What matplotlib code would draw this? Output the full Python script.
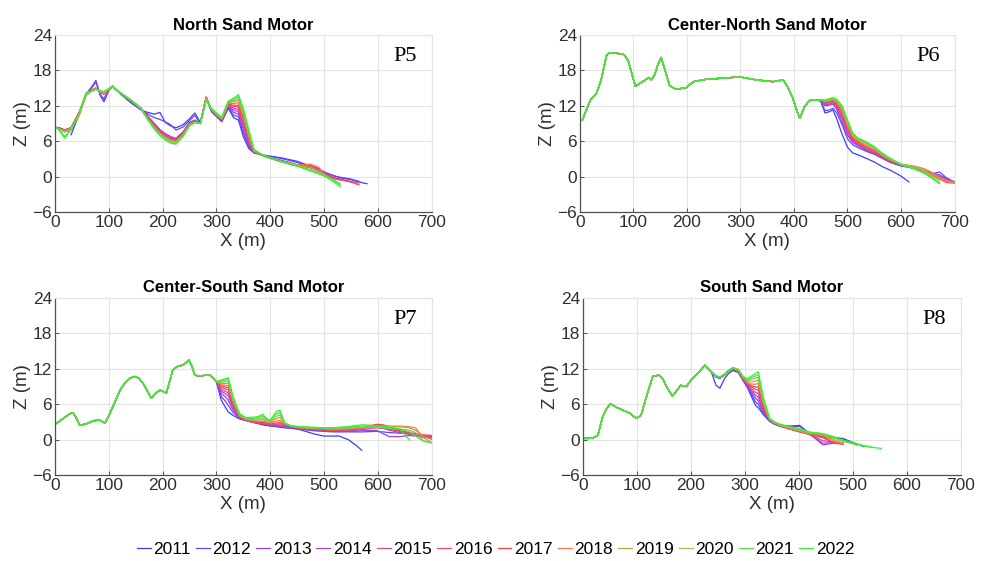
import matplotlib.pyplot as plt

plt.rcParams['font.family'] = ['Liberation Sans', 'DejaVu Sans']

years = [2011, 2012, 2013, 2014, 2015, 2016, 2017, 2018, 2019, 2020, 2021, 2022]
year_colors = ['#3c3cff', '#6644ff', '#9444e6', '#b444c8', '#d4449e', '#f04878',
               '#ff4040', '#f07848', '#c8a04a', '#9cc04c', '#4ee646', '#2ef52e']

titles = ['North Sand Motor', 'Center-North Sand Motor',
          'Center-South Sand Motor', 'South Sand Motor']
profile_ids = ['P5', 'P6', 'P7', 'P8']

# ---------------- P5 (North) : every year stored per section ----------------
p5_x_land = [0, 10, 18, 30, 45, 58, 68, 76, 84, 91, 100, 107, 120, 140, 160]
p5_z_land = [
    [None, None, None, 7.1, 10.6, 13.9, 15.0, 16.3, 13.8, 12.7, 14.6, 15.4, 14.2, 12.6, 11.3],
    [None, 8.1, 7.6, 7.9, 10.7, 14.0, 15.2, 16.2, 13.9, 12.8, 14.7, 15.3, 14.2, 12.7, 11.3],
    [8.3, 8.2, 7.9, 8.2, 10.8, 14.0, 15.0, 16.0, 14.0, 13.2, 14.8, 15.3, 14.2, 12.8, 11.4],
    [8.4, 8.2, 7.9, 8.3, 10.8, 14.0, 14.6, 15.0, 14.3, 14.0, 14.8, 15.2, 14.3, 13.0, 11.6],
    [8.4, 8.2, 7.9, 8.3, 10.8, 14.0, 14.6, 15.0, 14.3, 14.0, 14.8, 15.2, 14.3, 13.0, 11.6],
    [8.4, 8.2, 7.9, 8.3, 10.8, 14.0, 14.6, 15.0, 14.3, 14.0, 14.8, 15.2, 14.3, 13.0, 11.6],
    [8.4, 8.1, 7.8, 8.3, 10.9, 14.1, 14.6, 15.0, 14.3, 14.0, 14.8, 15.2, 14.3, 13.0, 11.6],
    [8.3, 8.0, 7.7, 8.2, 10.4, 13.8, 14.5, 14.9, 14.4, 14.1, 14.8, 15.2, 14.3, 13.1, 11.6],
    [8.3, 8.0, 7.7, 8.2, 10.3, 13.8, 14.5, 14.9, 14.4, 14.1, 14.8, 15.2, 14.3, 13.1, 11.6],
    [8.4, 8.0, 7.6, 8.1, 10.6, 14.0, 14.5, 14.9, 14.5, 14.3, 14.9, 15.3, 14.3, 13.0, 11.5],
    [8.5, 7.8, 6.8, 8.0, 10.6, 14.2, 14.5, 14.8, 14.6, 14.4, 14.9, 15.3, 14.3, 13.0, 11.5],
    [8.6, 7.6, 6.5, 8.0, 10.6, 14.2, 14.5, 14.8, 14.6, 14.4, 14.9, 15.3, 14.3, 13.0, 11.5],
]
p5_x_mid = [172, 185, 195, 205, 215, 225, 238, 250, 260, 270, 281, 291, 300, 310]
p5_z_mid = [
    [10.9, 10.6, 10.9, 9.2, 8.6, 8.3, 8.8, 9.8, 10.8, 9.2, 13.3, 11.0, 10.2, 9.3],
    [10.6, 10.0, 9.7, 9.3, 8.8, 7.9, 8.4, 9.5, 10.4, 9.0, 13.2, 11.1, 10.3, 9.4],
    [10.3, 9.0, 8.0, 7.3, 6.8, 6.5, 7.6, 9.2, 9.6, 9.0, 13.4, 11.2, 10.4, 9.5],
    [10.2, 8.8, 7.8, 7.1, 6.6, 6.4, 7.5, 9.1, 9.5, 9.0, 13.4, 11.2, 10.4, 9.6],
    [10.1, 8.7, 7.7, 7.0, 6.5, 6.3, 7.4, 9.0, 9.4, 9.0, 13.4, 11.2, 10.4, 9.6],
    [10.0, 8.6, 7.6, 6.9, 6.4, 6.2, 7.3, 8.9, 9.4, 9.0, 13.5, 11.3, 10.5, 9.7],
    [10.0, 8.5, 7.5, 6.8, 6.3, 6.1, 7.2, 8.9, 9.3, 9.0, 13.5, 11.3, 10.5, 9.7],
    [9.9, 8.4, 7.4, 6.7, 6.2, 6.0, 7.1, 8.8, 9.3, 9.0, 13.3, 11.4, 10.6, 9.8],
    [9.9, 8.3, 7.3, 6.6, 6.1, 5.9, 7.0, 8.8, 9.2, 9.0, 13.2, 11.4, 10.6, 9.8],
    [9.8, 8.2, 7.2, 6.5, 6.0, 5.8, 7.0, 8.7, 9.2, 9.0, 13.1, 11.5, 10.7, 9.9],
    [9.8, 8.1, 7.1, 6.3, 5.8, 5.6, 6.9, 8.7, 9.2, 9.0, 13.0, 11.5, 10.7, 10.0],
    [9.7, 8.0, 7.0, 6.2, 5.7, 5.5, 6.8, 8.6, 9.2, 9.0, 12.9, 11.6, 10.8, 10.1],
]
p5_x_front = [322, 332, 341, 350, 360, 370]
p5_z_front = [
    [11.6, 10.0, 9.6, 6.8, 4.8, 4.0],
    [11.8, 10.4, 10.2, 7.4, 5.0, 4.1],
    [12.0, 10.9, 10.6, 8.0, 5.3, 4.1],
    [12.0, 11.3, 11.0, 8.5, 5.6, 4.2],
    [12.1, 11.6, 11.4, 9.0, 5.9, 4.2],
    [12.2, 11.9, 11.8, 9.5, 6.2, 4.2],
    [12.3, 12.1, 12.1, 9.9, 6.5, 4.3],
    [12.4, 12.4, 12.5, 10.3, 6.8, 4.3],
    [12.5, 12.7, 12.9, 10.7, 7.1, 4.4],
    [12.6, 12.9, 13.2, 11.0, 7.4, 4.4],
    [12.7, 13.1, 13.6, 11.3, 7.7, 4.5],
    [12.8, 13.3, 13.9, 11.6, 8.0, 4.6],
]
p5_x_sea = [390, 420, 450, 475, 490, 505, 520, 530, 550, 565, 580]
p5_z_sea = [
    [3.6, 3.2, 2.6, 1.8, 1.3, 0.6, 0.1, -0.2, -0.5, -0.9, -1.2],
    [3.6, 3.1, 2.4, 1.7, 1.2, 0.6, 0.1, -0.1, -0.4, -0.8],
    [3.5, 2.8, 2.0, 1.5, 1.0, 0.3, -0.2, -0.5, -0.9],
    [3.5, 2.7, 2.0, 1.7, 1.3, 0.4, -0.3, -0.6],
    [3.5, 2.6, 1.9, 1.9, 1.4, 0.2, -0.4],
    [3.4, 2.6, 1.9, 1.8, 1.0, 0.3, -0.2, -0.4, -0.8, -1.1],
    [3.4, 2.5, 1.8, 1.6, 0.9, 0.2, -0.3, -0.5, -0.9, -1.4],
    [3.5, 2.6, 2.0, 2.1, 1.6, 0.0, -0.8],
    [3.5, 2.6, 1.9, 1.6, 1.0, -0.1, -0.7],
    [3.5, 2.6, 1.9, 1.2, 0.7, 0.1, -0.6, -1.2],
    [3.5, 2.6, 1.8, 1.0, 0.5, 0.0, -0.8, -1.4],
    [3.4, 2.6, 1.8, 1.0, 0.5, -0.1, -1.0, -1.7],
]

# ---------------- P6 (Center-North) ----------------
p6_x_land = [5, 10, 20, 31, 40, 50, 55, 68, 81, 90, 97, 104, 112, 124, 129, 134, 140,
             146, 152, 159, 168, 180, 199, 212, 236, 268, 299, 330, 361, 380, 389,
             398, 405, 411, 420, 429, 440]
p6_z_land = [9.6, 10.8, 13.0, 14.1, 16.4, 20.6, 21.0, 20.9, 20.8, 19.8, 17.5, 15.3,
             15.8, 16.5, 16.8, 16.4, 17.3, 19.0, 20.2, 18.1, 15.4, 14.8, 15.1, 16.1,
             16.5, 16.7, 16.9, 16.4, 16.1, 16.4, 15.1, 13.3, 11.3, 9.9, 11.9, 12.9, 13.0]
p6_x_front = [450, 458, 466, 473, 480, 490, 500, 510, 520, 535, 550, 565, 580, 600,
              615, 630, 645, 660, 672, 685, 700]
p6_z_front = [
    [12.8, 10.8, 11.0, 11.3, 9.8, 7.2, 5.0, 4.0, 3.7, 3.1, 2.5, 1.7, 1.1, 0.1, -0.9],
    [12.9, 11.2, 11.3, 11.6, 10.8, 8.8, 6.4, 5.4, 4.9, 4.3, 3.8, 3.1, 2.4, 1.8, 1.6, 1.3, 0.9, 0.5, 0.8, -0.2, -0.9],
    [12.9, 12.0, 12.1, 12.3, 11.4, 9.3, 7.0, 5.8, 5.2, 4.5, 3.9, 3.2, 2.5, 1.9, 1.6, 1.2, 1.0, 0.6, 0.3, -0.3, -0.9],
    [12.9, 12.2, 12.3, 12.5, 11.7, 9.8, 7.4, 6.0, 5.4, 4.6, 4.0, 3.3, 2.6, 2.0, 1.6, 1.3, 0.9, 0.5, 0.1, -0.5, -1.0],
    [12.9, 12.4, 12.5, 12.7, 12.0, 10.2, 7.8, 6.2, 5.6, 4.7, 4.1, 3.4, 2.6, 2.0, 1.7, 1.3, 0.8, 0.3, 0.0, -0.6, -1.0],
    [13.0, 12.6, 12.6, 12.8, 12.2, 10.6, 8.1, 6.4, 5.7, 4.9, 4.3, 3.4, 2.7, 2.0, 1.7, 1.3, 0.7, 0.2, -0.2, -0.8, -1.0],
    [13.0, 12.7, 12.7, 12.9, 12.4, 11.0, 8.4, 6.6, 5.9, 5.0, 4.4, 3.5, 2.7, 2.1, 1.8, 1.3, 0.6, 0.0, -0.4, -1.0, -1.1],
    [13.0, 12.8, 12.8, 13.0, 12.6, 11.3, 8.7, 6.8, 6.0, 5.2, 4.6, 3.6, 2.8, 2.1, 1.9, 1.7, 1.3, 0.6, -0.1, -0.7, -1.0],
    [13.0, 12.8, 12.9, 13.1, 12.8, 11.5, 8.9, 7.0, 6.2, 5.4, 4.8, 3.7, 2.9, 2.1, 1.9, 1.6, 1.0, 0.3, -0.3, -0.8, -1.0],
    [13.0, 12.9, 13.0, 13.2, 12.9, 11.7, 9.2, 7.2, 6.4, 5.6, 4.9, 3.8, 3.0, 2.1, 1.8, 1.3, 0.8, 0.0, -0.6],
    [13.0, 12.9, 13.1, 13.3, 13.0, 11.9, 9.5, 7.3, 6.5, 5.8, 5.0, 3.9, 3.1, 2.1, 1.7, 1.2, 0.6, -0.3, -1.0],
    [13.0, 13.0, 13.2, 13.4, 13.1, 12.0, 9.6, 7.3, 6.5, 5.9, 5.1, 4.0, 3.1, 2.0, 1.6, 1.1, 0.5, -0.4, -1.2],
]

# ---------------- P7 (Center-South) ----------------
p7_x_land = [0, 10, 20, 28, 34, 40, 46, 59, 71, 83, 93, 102, 112, 121, 130, 139, 148,
             156, 164, 172, 179, 188, 195, 207, 213, 219, 229, 238, 244, 249, 255, 260,
             269, 280, 288, 295, 300]
p7_z_land = [2.6, 3.2, 3.9, 4.4, 4.5, 3.6, 2.4, 2.7, 3.2, 3.3, 2.8, 4.4, 6.5, 8.4, 9.6,
             10.4, 10.7, 10.4, 9.5, 8.2, 7.0, 7.9, 8.4, 7.9, 9.8, 11.8, 12.5, 12.6, 13.1,
             13.5, 12.3, 10.9, 10.8, 10.9, 10.9, 10.4, 9.8]
p7_x_front = [309, 316, 322, 331, 343, 355, 368, 378, 386, 393, 400, 411, 418, 427, 440, 455]
p7_z_front = [
    [6.7, 5.6, 4.7, 4.1, 3.5, 3.2, 2.9, 2.7, 2.5, 2.4, 2.3, 2.2, 2.1, 2.0, 1.9, 1.7],
    [7.3, 6.6, 5.8, 4.6, 3.6, 3.3, 3.0, 2.8, 2.6, 2.5, 2.4, 2.3, 2.2, 2.1, 2.0, 1.8],
    [7.8, 7.3, 6.7, 5.0, 3.7, 3.3, 3.0, 2.8, 2.7, 2.6, 2.5, 2.4, 2.3, 2.2, 2.0, 1.8],
    [8.2, 7.8, 7.4, 5.4, 3.8, 3.3, 3.0, 2.8, 2.7, 2.6, 2.5, 2.4, 2.3, 2.2, 2.1, 1.9],
    [8.5, 8.2, 7.9, 5.6, 3.8, 3.3, 3.0, 2.9, 2.8, 2.7, 2.6, 2.5, 2.5, 2.4, 2.1, 1.9],
    [8.8, 8.6, 8.4, 5.9, 3.8, 3.3, 3.0, 2.9, 2.8, 2.7, 2.6, 2.6, 2.7, 2.5, 2.2, 2.0],
    [9.1, 8.9, 8.8, 6.2, 3.9, 3.3, 3.1, 3.0, 2.9, 2.8, 2.7, 2.8, 2.9, 2.6, 2.2, 2.0],
    [9.3, 9.2, 9.1, 6.4, 4.0, 3.4, 3.2, 3.1, 3.1, 3.0, 2.8, 3.1, 3.3, 2.7, 2.2, 2.0],
    [9.5, 9.5, 9.5, 6.7, 4.1, 3.5, 3.3, 3.3, 3.4, 3.1, 2.9, 3.5, 3.8, 2.7, 2.3, 2.1],
    [9.7, 9.8, 9.9, 6.9, 4.2, 3.5, 3.4, 3.5, 3.7, 3.3, 3.0, 3.9, 4.2, 2.7, 2.3, 2.1],
    [9.9, 10.1, 10.2, 7.1, 4.3, 3.6, 3.6, 3.7, 4.0, 3.5, 3.2, 4.3, 4.6, 2.8, 2.3, 2.2],
    [10.1, 10.3, 10.5, 7.3, 4.4, 3.7, 3.8, 3.9, 4.3, 3.6, 3.3, 4.7, 5.0, 2.8, 2.3, 2.2],
]
p7_x_sea = [480, 499, 516, 528, 545, 560, 570, 597, 610, 621, 640, 659, 670, 685, 700]
p7_z_sea = [
    [1.0, 0.6, 0.6, 0.6, 0.0, -1.0, -1.8],
    [1.5, 1.4, 1.3, 1.3, 1.3, 1.3, 1.3, 1.4, 1.3, 1.2, 1.1, 1.0, 0.8, 0.5, 0.3],
    [1.6, 1.5, 1.4, 1.4, 1.4, 1.4, 1.5, 1.6, 1.0, 0.5, 0.5, 0.7, 0.6, 0.4, 0.3],
    [1.7, 1.6, 1.5, 1.5, 1.5, 1.6, 1.7, 2.0, 1.9, 1.6, 1.2, 0.9, 0.7, 0.5, 0.4],
    [1.7, 1.6, 1.6, 1.6, 1.6, 1.7, 1.8, 2.2, 2.1, 1.8, 1.4, 1.0, 0.8, 0.6, 0.5],
    [1.8, 1.7, 1.6, 1.6, 1.7, 1.8, 1.9, 2.4, 2.3, 2.0, 1.5, 1.1, 0.9, 0.7, 0.6],
    [1.8, 1.7, 1.6, 1.7, 1.8, 1.9, 2.0, 2.6, 2.5, 2.2, 1.6, 1.2, 1.0, 0.8, 0.7],
    [1.9, 1.8, 1.7, 1.8, 1.8, 1.9, 2.0, 2.2, 2.3, 2.3, 2.2, 2.0, 1.6, 0.6, 0.0],
    [1.9, 1.9, 1.8, 1.8, 1.9, 2.0, 2.0, 2.0, 2.1, 2.2, 2.3, 2.2, 2.0, 0.3, -0.5],
    [2.0, 1.9, 1.9, 1.9, 2.0, 2.1, 2.1, 2.1, 2.0, 1.9, 1.8, 1.6, 1.2, -0.2, -0.6],
    [2.0, 2.0, 2.0, 2.0, 2.1, 2.2, 2.3, 2.3, 2.2, 2.1, 1.8, 1.3, 0.6, -0.3, -0.5],
    [2.1, 2.0, 2.0, 2.1, 2.2, 2.4, 2.5, 2.4, 2.2, 2.0, 1.9, -0.1],
]

# ---------------- P8 (South) ----------------
p8_x_land = [0, 10, 19, 28, 37, 44, 51, 62, 74, 87, 99, 108, 118, 130, 142, 149, 155,
             166, 176, 181, 192, 201, 213, 226, 238]
p8_z_land = [0.2, 0.2, 0.3, 0.7, 3.9, 5.2, 6.1, 5.5, 5.0, 4.5, 3.6, 4.1, 7.3, 10.8,
             10.9, 10.2, 9.0, 7.4, 8.5, 9.2, 9.0, 10.1, 11.2, 12.6, 11.5]
p8_x_front = [247, 254, 263, 270, 278, 288, 297, 305, 313, 320, 325, 335, 346, 355, 365,
              383, 402, 420, 445, 465, 482, 495, 507, 520, 535, 553]
p8_z_front = [
    [9.2, 8.7, 10.4, 11.2, 11.7, 11.4, 10.0, 8.8, 7.2, 5.8, 5.4, 4.2, 3.1, 2.6, 2.3, 2.3, 2.4, 1.0, 0.5, 0.3, 0.2, -0.3, -0.7, -1.2],
    [10.6, 10.4, 11.0, 11.6, 12.0, 11.5, 10.1, 9.0, 7.6, 6.4, 6.0, 4.4, 3.2, 2.7, 2.4, 2.2, 2.2, 1.1, 0.5, 0.4, 0.1, -0.4, -0.9],
    [10.6, 10.4, 11.0, 11.6, 12.0, 11.5, 10.2, 9.1, 8.0, 7.0, 6.6, 4.6, 3.2, 2.7, 2.3, 2.0, 1.6, 1.0, -0.9, -0.6, -0.6],
    [10.6, 10.4, 11.0, 11.6, 12.0, 11.6, 10.3, 9.2, 8.3, 7.5, 7.2, 4.8, 3.3, 2.7, 2.3, 1.9, 1.5, 0.9, -0.6, -0.5, -0.7],
    [10.7, 10.5, 11.0, 11.6, 12.0, 11.6, 10.4, 9.3, 8.6, 8.0, 7.8, 5.0, 3.3, 2.7, 2.3, 1.8, 1.4, 0.9, -0.2, -0.4, -0.6],
    [10.7, 10.5, 11.1, 11.7, 12.0, 11.6, 10.4, 9.4, 8.9, 8.5, 8.4, 5.3, 3.4, 2.8, 2.3, 1.8, 1.3, 0.9, 0.3, -0.5, -0.7],
    [10.7, 10.5, 11.1, 11.7, 12.1, 11.7, 10.5, 9.5, 9.1, 8.9, 8.9, 5.6, 3.4, 2.8, 2.4, 1.8, 1.3, 0.9, 0.5, -0.6, -0.8],
    [10.7, 10.5, 11.1, 11.7, 12.1, 11.7, 10.5, 9.6, 9.4, 9.4, 9.5, 5.9, 3.4, 2.8, 2.4, 1.9, 1.4, 1.0, 0.7, -0.3, -0.7],
    [10.8, 10.6, 11.1, 11.7, 12.1, 11.8, 10.6, 9.8, 9.8, 9.9, 10.1, 6.2, 3.5, 2.9, 2.5, 2.0, 1.5, 1.1, 0.8, 0.0, -0.6],
    [10.8, 10.6, 11.1, 11.7, 12.2, 11.8, 10.6, 10.0, 10.2, 10.4, 10.6, 6.5, 3.5, 2.9, 2.5, 2.1, 1.6, 1.2, 0.9, 0.3, -0.3, -0.6, -0.9],
    [10.8, 10.6, 11.1, 11.7, 12.2, 11.9, 10.7, 10.1, 10.5, 10.8, 11.0, 6.8, 3.6, 3.0, 2.6, 2.2, 1.7, 1.2, 1.0, 0.4, -0.2, -0.5, -0.8, -1.1, -1.3],
    [10.8, 10.6, 11.1, 11.7, 12.2, 11.9, 10.7, 10.3, 10.8, 11.2, 11.5, 7.0, 3.6, 3.0, 2.6, 2.2, 1.8, 1.3, 1.0, 0.5, -0.1, -0.4, -0.7, -1.0, -1.3, -1.5],
]


def pad(row, n):
    return list(row) + [None] * (n - len(row))


def build_profiles(sections):
    """sections: list of (x, z) where z is one shared row or 12 per-year rows."""
    profiles = []
    for i in range(len(years)):
        xs, zs = [], []
        for x, z in sections:
            row = z[i] if isinstance(z[0], list) else z
            xs += list(x)
            zs += pad(row, len(x))
        zs = [float('nan') if v is None else v for v in zs]
        profiles.append((xs, zs))
    return profiles


panels = [
    build_profiles([(p5_x_land, p5_z_land), (p5_x_mid, p5_z_mid),
                    (p5_x_front, p5_z_front), (p5_x_sea, p5_z_sea)]),
    build_profiles([(p6_x_land, p6_z_land), (p6_x_front, p6_z_front)]),
    build_profiles([(p7_x_land, p7_z_land), (p7_x_front, p7_z_front),
                    (p7_x_sea, p7_z_sea)]),
    build_profiles([(p8_x_land, p8_z_land), (p8_x_front, p8_z_front)]),
]

fig = plt.figure(figsize=(9.81, 5.61), dpi=100)
rects = [[0.056, 0.622, 0.384, 0.3155], [0.591, 0.622, 0.382, 0.3155],
         [0.056, 0.1533, 0.384, 0.3155], [0.594, 0.1533, 0.3853, 0.3155]]

lines = []
for k, rect in enumerate(rects):
    ax = fig.add_axes(rect)
    for i, (xs, zs) in enumerate(panels[k]):
        ln, = ax.plot(xs, zs, color=year_colors[i], lw=0.9, label=str(years[i]))
        if k == 0:
            lines.append(ln)
    ax.set_xlim(0, 700)
    ax.set_ylim(-6, 24)
    ax.set_xticks(range(0, 701, 100))
    ax.set_yticks(range(-6, 25, 6))
    ax.grid(True, color='#e3e3e3', lw=0.8)
    ax.set_axisbelow(True)
    for side in ['top', 'right']:
        ax.spines[side].set_color('#e3e3e3')
        ax.spines[side].set_linewidth(0.8)
    for side in ['left', 'bottom']:
        ax.spines[side].set_color('#505050')
        ax.spines[side].set_linewidth(0.9)
    ax.tick_params(direction='in', length=3, width=0.7, color='#505050',
                   labelcolor='#303030', labelsize=12.5, pad=2)
    ax.set_xlabel('X (m)', fontsize=13.5, color='#303030', labelpad=2)
    ax.set_ylabel('Z (m)', fontsize=13.5, color='#303030', labelpad=1)
    ax.set_title(titles[k], fontsize=12, fontweight='bold', pad=4)
    ax.text(0.96, 0.93, profile_ids[k], transform=ax.transAxes, ha='right', va='top',
            fontsize=16, family='Liberation Serif')

fig.legend(handles=lines, loc='center', bbox_to_anchor=(0.505, 0.02), ncol=12,
           frameon=False, fontsize=12.5, handlelength=0.8, handletextpad=0.15,
           columnspacing=0.3, borderaxespad=0)

fig.savefig('out.png', dpi=100)
